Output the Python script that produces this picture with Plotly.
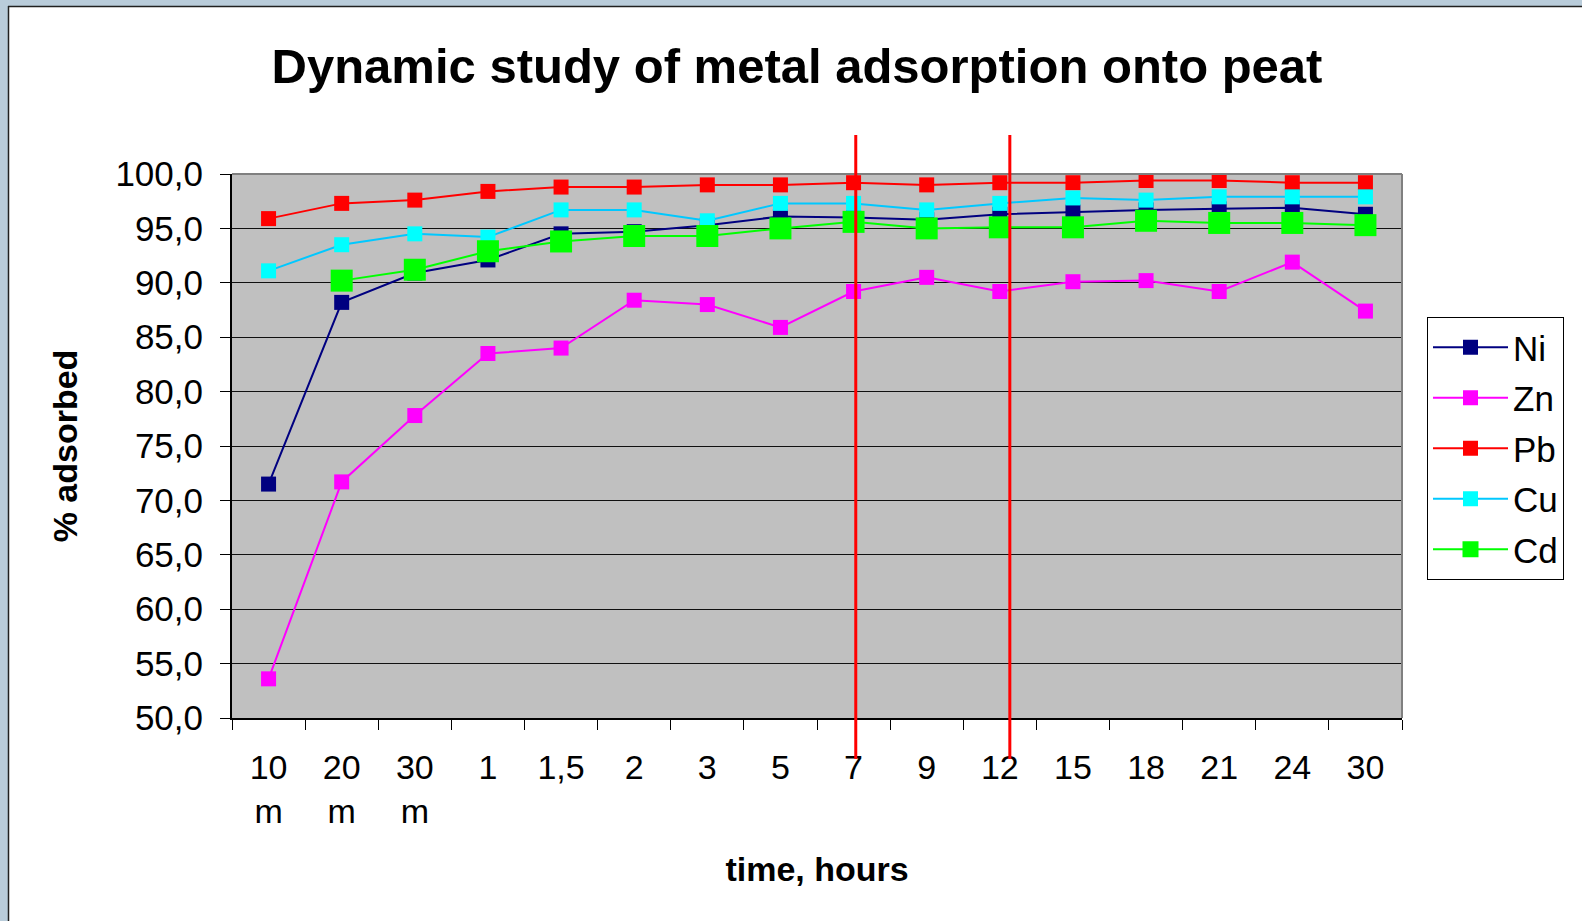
import plotly.graph_objects as go

# ---------------- data ----------------
time_labels = ["10 m", "20 m", "30 m", "1", "1,5", "2", "3", "5", "7", "9",
               "12", "15", "18", "21", "24", "30"]
tick_text = ["10<br>m", "20<br>m", "30<br>m", "1", "1,5", "2", "3", "5", "7", "9",
             "12", "15", "18", "21", "24", "30"]

ni = [71.5, 88.2, 90.9, 92.1, 94.5, 94.7, 95.3, 96.1, 96.0, 95.8, 96.3, 96.5, 96.7, 96.8, 96.9, 96.3]
zn = [53.6, 71.7, 77.8, 83.5, 84.0, 88.4, 88.0, 85.9, 89.2, 90.5, 89.2, 90.1, 90.2, 89.2, 91.9, 87.4]
pb = [95.9, 97.3, 97.6, 98.4, 98.8, 98.8, 99.0, 99.0, 99.2, 99.0, 99.2, 99.2, 99.4, 99.4, 99.2, 99.2]
cu = [91.1, 93.5, 94.5, 94.2, 96.7, 96.7, 95.7, 97.3, 97.3, 96.7, 97.3, 97.8, 97.6, 97.9, 97.9, 97.9]
cd = [None, 90.2, 91.2, 92.9, 93.8, 94.3, 94.3, 95.0, 95.6, 95.0, 95.1, 95.1, 95.7, 95.5, 95.5, 95.3]

series_names = ["Ni", "Zn", "Pb", "Cu", "Cd"]
highlight_times = ["7", "12"]

# ---------------- styling ----------------
FONT = "Liberation Sans, Arial, sans-serif"
W, H = 1582, 921
ML, MR, MT, MB = 232, 180, 174, 203
PW = W - ML - MR
PH = H - MT - MB


def px_x(px):
    return (px - ML) / PW


def px_y(py):
    return (H - MB - py) / PH


styles = {
    "Ni": dict(line="#000080", marker="#000080", size=15),
    "Zn": dict(line="#FF00FF", marker="#FF00FF", size=15),
    "Pb": dict(line="#FF0000", marker="#FF0000", size=15),
    "Cu": dict(line="#00C8FF", marker="#00FFFF", size=15),
    "Cd": dict(line="#00FF00", marker="#00FF00", size=22),
}
values = {"Ni": ni, "Zn": zn, "Pb": pb, "Cu": cu, "Cd": cd}

fig = go.Figure()
for name in series_names:
    st = styles[name]
    fig.add_trace(go.Scatter(
        x=time_labels, y=values[name], name=name, mode="lines+markers",
        line=dict(color=st["line"], width=2),
        marker=dict(symbol="square", size=st["size"], color=st["marker"],
                    line=dict(width=0)),
        legendgroup=name, connectgaps=False,
    ))

shapes = []
# slide frame (blue-grey band at top / left with black edge)
shapes.append(dict(type="rect", xref="paper", yref="paper",
                   x0=px_x(-5), x1=px_x(W + 5), y0=px_y(6), y1=px_y(-5),
                   fillcolor="#B9CCDA", line=dict(width=0), layer="above"))
shapes.append(dict(type="rect", xref="paper", yref="paper",
                   x0=px_x(-5), x1=px_x(8), y0=px_y(H + 5), y1=px_y(-5),
                   fillcolor="#B9CCDA", line=dict(width=0), layer="above"))
shapes.append(dict(type="line", xref="paper", yref="paper",
                   x0=px_x(8), x1=px_x(W + 5), y0=px_y(6.5), y1=px_y(6.5),
                   line=dict(color="#202020", width=1.5), layer="above"))
shapes.append(dict(type="line", xref="paper", yref="paper",
                   x0=px_x(8.5), x1=px_x(8.5), y0=px_y(6), y1=px_y(H + 5),
                   line=dict(color="#202020", width=1.5), layer="above"))
# grey plot-area border (top / right)
shapes.append(dict(type="line", xref="paper", yref="paper", x0=0, x1=1, y0=1, y1=1,
                   line=dict(color="#808080", width=2), layer="above"))
shapes.append(dict(type="line", xref="paper", yref="paper", x0=1, x1=1, y0=0, y1=1,
                   line=dict(color="#808080", width=2), layer="above"))
# red marker lines at the highlighted times
shifts = [0.03, 0.137]
for t, s in zip(highlight_times, shifts):
    xi = time_labels.index(t) + s
    shapes.append(dict(type="line", xref="x", yref="paper", x0=xi, x1=xi,
                       y0=px_y(759), y1=px_y(135),
                       line=dict(color="#FF0000", width=3), layer="above"))

fig.update_layout(
    width=W, height=H,
    paper_bgcolor="white",
    plot_bgcolor="#C0C0C0",
    margin=dict(l=ML, r=MR, t=MT, b=MB, autoexpand=False),
    separators=",.",
    font=dict(family=FONT, size=33, color="black"),
    title=dict(text="<b>Dynamic study of metal adsorption onto peat</b>",
               font=dict(size=49, family=FONT, color="black"),
               xref="container", x=797 / W, xanchor="center",
               yref="container", y=1 - 66 / H, yanchor="middle"),
    legend=dict(x=px_x(1427), xanchor="left", y=px_y(317), yanchor="top",
                bordercolor="black", borderwidth=1, bgcolor="white",
                font=dict(size=35, family=FONT, color="black"),
                itemwidth=75, tracegroupgap=2, traceorder="grouped"),
    shapes=shapes,
    showlegend=True,
)

fig.update_xaxes(
    type="category", categoryorder="array", categoryarray=time_labels,
    range=[-0.5, len(time_labels) - 0.5],
    tickvals=time_labels, ticktext=tick_text,
    tickson="boundaries", ticks="outside", ticklen=10, tickwidth=1, tickcolor="black",
    showline=True, linecolor="black", linewidth=2, showgrid=False, zeroline=False,
    tickfont=dict(size=34, family=FONT, color="black"),
    ticklabelstandoff=18,
    title=dict(text="<b>time, hours</b>", font=dict(size=34, family=FONT, color="black"),
               standoff=28),
)
fig.update_yaxes(
    range=[50, 100], tick0=50, dtick=5, tickformat=".1f",
    ticks="outside", ticklen=10, tickwidth=1, tickcolor="black",
    showline=True, linecolor="black", linewidth=2,
    showgrid=True, gridcolor="#101010", gridwidth=1, zeroline=False,
    tickfont=dict(size=35, family=FONT, color="black"),
    ticklabelstandoff=10,
    title=dict(text="<b>% adsorbed</b>", font=dict(size=34, family=FONT, color="black"),
               standoff=28),
)

fig.write_html("out.html")
